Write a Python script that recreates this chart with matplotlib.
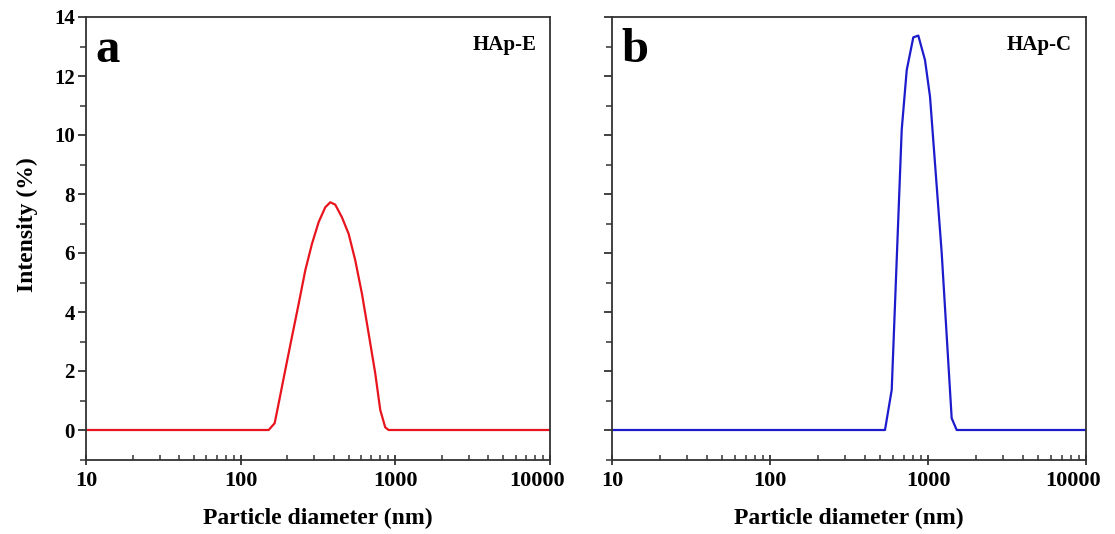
import matplotlib
matplotlib.use("Agg")
import matplotlib.pyplot as plt
from matplotlib.transforms import ScaledTranslation
from matplotlib.ticker import LogLocator, FixedLocator, NullFormatter, MultipleLocator

plt.rcParams['font.family'] = ['Liberation Serif', 'DejaVu Serif']
plt.rcParams['font.weight'] = 'bold'

# HAp-E size distribution (diameter in nm, intensity in %)
hap_e_d = [10, 151.7, 165.9, 176.0, 194.2, 214.6, 237.2, 261.6, 289.0,
           319.4, 352.4, 379.6, 408.8, 451.6, 499.0, 550.7, 608.3, 672.1,
           741.6, 798.9, 860.4, 904.8, 10000]
hap_e_i = [0, 0, 0.23, 0.9, 2.03, 3.16, 4.28, 5.41, 6.31,
           7.05, 7.55, 7.72, 7.64, 7.21, 6.65, 5.75, 4.62, 3.27,
           1.92, 0.68, 0.09, 0, 0]

# HAp-C size distribution
hap_c_d = [10, 534.3, 589.3, 681.6, 733.4, 807.2, 868.2, 957.2, 1029.7,
           1221.0, 1412.0, 1519.0, 10000]
hap_c_i = [0, 0, 1.36, 10.17, 12.2, 13.31, 13.37, 12.54, 11.3,
           6.0, 0.4, 0, 0]

x_ticks = [10, 100, 1000, 10000]
x_tick_labels = ['10', '100', '1000', '10000']
y_ticks = [0, 2, 4, 6, 8, 10, 12, 14]

W, H = 1115, 534
fig = plt.figure(figsize=(W / 100, H / 100), dpi=100)

def px_axes(x0, x1, y0, y1):
    return fig.add_axes([x0 / W, 1 - y1 / H, (x1 - x0) / W, (y1 - y0) / H])

ax_a = px_axes(86, 550, 17, 459.5)
ax_b = px_axes(612, 1086, 17, 459.5)

spine_c = '#333333'
panels = [
    (ax_a, hap_e_d, hap_e_i, '#e8141e', 'a', 'HAp-E', True),
    (ax_b, hap_c_d, hap_c_i, '#1c1ccc', 'b', 'HAp-C', False),
]

for ax, d, inten, color, letter, name, show_ylabels in panels:
    ax.plot(d, inten, color=color, lw=1.6)
    ax.set_xscale('log')
    ax.set_xlim(10, 10000)
    ax.set_ylim(-1, 14)
    for s in ax.spines.values():
        s.set_color(spine_c)
        s.set_linewidth(1.3)

    ax.xaxis.set_major_locator(FixedLocator(x_ticks))
    ax.set_xticklabels(x_tick_labels)
    ax.xaxis.set_minor_locator(LogLocator(base=10, subs=range(2, 10)))
    ax.xaxis.set_minor_formatter(NullFormatter())
    ax.tick_params(axis='x', which='major', direction='inout', length=7,
                   width=1.3, color=spine_c, labelsize=16, pad=5, top=False)
    ax.tick_params(axis='x', which='minor', direction='in', length=3.5,
                   width=1.1, color=spine_c, top=False)

    ax.yaxis.set_major_locator(FixedLocator(y_ticks))
    ax.yaxis.set_minor_locator(MultipleLocator(1))
    ax.tick_params(axis='y', which='major', direction='out', length=6,
                   width=1.3, color=spine_c, labelsize=15, pad=2, right=False,
                   labelleft=show_ylabels)
    ax.tick_params(axis='y', which='minor', direction='out', length=4,
                   width=1.1, color=spine_c, right=False)
    for lab in ax.get_xticklabels() + ax.get_yticklabels():
        lab.set_fontweight('bold')
    # pull the last x label inwards so it clears the panel edge
    last = ax.get_xticklabels()[-1]
    last.set_transform(last.get_transform() +
                       ScaledTranslation(-13 / 100, 0, fig.dpi_scale_trans))

    ax.set_xlabel('Particle diameter (nm)', fontsize=17, fontweight='bold',
                  labelpad=12)
    ax.text(0.02, 0.975, letter, transform=ax.transAxes, fontsize=35,
            fontweight='bold', va='top', ha='left')
    ax.text(0.97, 0.96, name, transform=ax.transAxes, fontsize=15,
            fontweight='bold', va='top', ha='right')

ax_a.set_ylabel('Intensity (%)', fontsize=17, fontweight='bold')
ax_a.yaxis.set_label_coords(-0.103, 0.53)

fig.savefig('out.png', dpi=100)
